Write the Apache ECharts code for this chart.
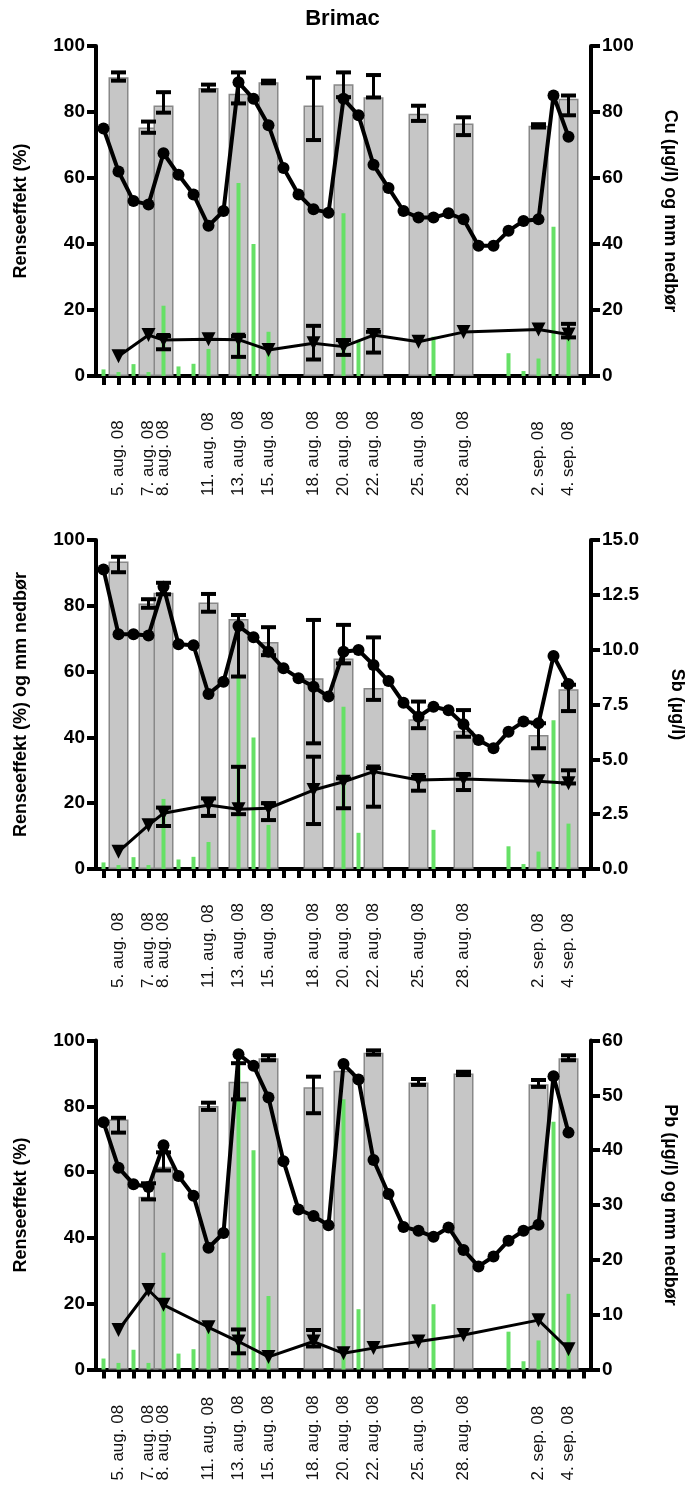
<!DOCTYPE html>
<html>
<head>
<meta charset="utf-8">
<script src="https://cdn.jsdelivr.net/npm/echarts@6/dist/echarts.min.js"></script>
<style>
  html, body { margin: 0; padding: 0; background: #fff; }
  #chart { width: 685px; height: 1485px; }
</style>
</head>
<body>
<div id="chart"></div>
<script>
// days on the x axis, 4. aug. 08 - 5. sep. 08
const days = ['4. aug. 08', '5. aug. 08', '6. aug. 08', '7. aug. 08', '8. aug. 08', '9. aug. 08', '10. aug. 08',
  '11. aug. 08', '12. aug. 08', '13. aug. 08', '14. aug. 08', '15. aug. 08', '16. aug. 08', '17. aug. 08',
  '18. aug. 08', '19. aug. 08', '20. aug. 08', '21. aug. 08', '22. aug. 08', '23. aug. 08', '24. aug. 08',
  '25. aug. 08', '26. aug. 08', '27. aug. 08', '28. aug. 08', '29. aug. 08', '30. aug. 08', '31. aug. 08',
  '1. sep. 08', '2. sep. 08', '3. sep. 08', '4. sep. 08', '5. sep. 08']
// only these dates get a label
const shownDays = ['5. aug. 08', '7. aug. 08', '8. aug. 08', '11. aug. 08', '13. aug. 08', '15. aug. 08',
  '18. aug. 08', '20. aug. 08', '22. aug. 08', '25. aug. 08', '28. aug. 08', '2. sep. 08', '4. sep. 08']

// rain (mm nedbør), same in all three panels
const rain = [2, 1.2, 3.6, 1.2, 21.3, 2.9, 3.7, 8.2, null, 58.5, 40, 13.4, null, null, null, null, 49.3, 11,
  null, null, null, null, 11.9, null, null, null, null, 6.9, 1.5, 5.3, 45.2, 13.8, null]

// Cu
const cuEff = [null, 90.5, null, 75.3, 82, null, null, 87.3, null, 85.5, null, 89, null, null, 82, null, 88.4,
  null, 84.5, null, null, 79.5, null, null, 76.5, null, null, null, null, 75.8, null, 84, null]
const cuEffLow = [null, 89.5, null, 73.7, 79.8, null, null, 86.5, null, 82.6, null, 88.7, null, null, 71.5, null, 84.5,
  null, 84.4, null, null, 77.3, null, null, 73, null, null, null, null, 75.3, null, 79, null]
const cuEffHigh = [null, 92, null, 77.1, 86, null, null, 88.3, null, 92, null, 89.5, null, null, 90.4, null, 92,
  null, 91.2, null, null, 81.9, null, null, 78.4, null, null, null, null, 76.3, null, 85, null]
const cu = [75, 62, 53, 52, 67.5, 61, 55, 45.5, 50, 89, 84, 76, 63, 55, 50.5, 49.5, 84, 79, 64, 57, 50, 48, 48,
  49.3, 47.5, 39.5, 39.5, 44, 47, 47.5, 85, 72.5, null]
const cuOut = [null, 6, null, 12.4, 10.9, null, null, 11.1, null, 11, null, 7.9, null, null, 9.9, null, 8.9,
  null, 12.4, null, null, 10.4, null, null, 13.3, null, null, null, null, 14.1, null, 12.6, null]
const cuOutLow = [null, null, null, null, 8.1, null, null, null, null, 5.8, null, null, null, null, 5, null, 6.4,
  null, 7.1, null, null, null, null, null, null, null, null, null, null, null, null, 11.7, null]
const cuOutHigh = [null, null, null, null, 12.1, null, null, null, null, 12.1, null, null, null, null, 15.2, null, 10.9,
  null, 13.4, null, null, null, null, null, null, null, null, null, null, null, null, 15.8, null]

// Sb
const sbEff = [null, 93.5, null, 80.7, 84, null, null, 81, null, 76, null, 69, null, null, 58, null, 64,
  null, 55, null, null, 45.5, null, null, 42, null, null, null, null, 40.7, null, 54.6, null]
const sbEffLow = [null, 90.2, null, 79.4, 83.5, null, null, 78.2, null, 58.5, null, 65, null, null, 38.2, null, 62.5,
  null, 51.4, null, null, 42.8, null, null, 40.2, null, null, null, null, 36.7, null, 48, null]
const sbEffHigh = [null, 94.9, null, 82, 87, null, null, 83.6, null, 77.2, null, 73.5, null, null, 75.7, null, 74.2,
  null, 70.4, null, null, 50.9, null, null, 48.3, null, null, null, null, 44.3, null, 56, null]
const sb = [13.66, 10.7, 10.7, 10.65, 12.87, 10.25, 10.2, 7.98, 8.54, 11.08, 10.57, 9.9, 9.15, 8.7, 8.31, 7.86,
  9.9, 9.98, 9.3, 8.57, 7.58, 6.94, 7.4, 7.24, 6.6, 5.88, 5.5, 6.26, 6.72, 6.64, 9.71, 8.43, null]
const sbOut = [null, 0.79, null, 2, 2.54, null, null, 2.92, null, 2.72, null, 2.77, null, null, 3.6, null, 3.98,
  null, 4.44, null, null, 4.06, null, null, 4.1, null, null, null, null, 4, null, 3.91, null]
const sbOutLow = [null, null, null, null, 1.96, null, null, 2.42, null, 2.5, null, 2.23, null, null, 2.05, null, 2.77,
  null, 2.84, null, null, 3.57, null, null, 3.6, null, null, null, null, null, null, 3.9, null]
const sbOutHigh = [null, null, null, null, 2.8, null, null, 3.22, null, 4.66, null, 3, null, null, 5.12, null, 4.13,
  null, 4.6, null, null, 4.2, null, null, 4.3, null, null, null, null, null, null, 4.5, null]

// Pb
const pbEff = [null, 76, null, 52.5, 61.6, null, null, 80.1, null, 87.5, null, 94.6, null, null, 85.8, null, 90.8,
  null, 96.3, null, null, 87.2, null, null, 90, null, null, null, null, 86.7, null, 94.6, null]
const pbEffLow = [null, 72, null, 51.7, 60.5, null, null, 78.9, null, 82.1, null, 94, null, null, 77.9, null, null,
  null, 95.7, null, null, 86.5, null, null, 89.5, null, null, null, null, 85.9, null, 94, null]
const pbEffHigh = [null, 76.5, null, 56.6, 66, null, null, 81.1, null, 93.1, null, 95.5, null, null, 89, null, null,
  null, 97, null, null, 88.3, null, null, 90.5, null, null, null, null, 88, null, 95.5, null]
const pb = [45.1, 36.8, 33.8, 33.3, 40.9, 35.3, 31.7, 22.2, 24.9, 57.5, 55.4, 49.6, 38, 29.2, 28, 26.3, 55.7, 52.9,
  38.2, 32, 26, 25.3, 24.2, 25.9, 21.8, 18.8, 20.6, 23.5, 25.3, 26.4, 53.5, 43.2, null]
const pbOut = [null, 7.2, null, 14.5, 11.8, null, null, 7.7, null, 5.1, null, 2.3, null, null, 5.1, null, 2.95,
  null, 3.9, null, null, 5.1, null, null, 6.3, null, null, null, null, 9, null, 3.7, null]
const pbOutLow = [null, null, null, null, null, null, null, null, null, 2.95, null, null, null, null, 4.2, null, null,
  null, null, null, null, null, null, null, null, null, null, null, null, null, null, null, null]
const pbOutHigh = [null, null, null, null, null, null, null, null, null, 7.3, null, null, null, null, 7.2, null, null,
  null, null, null, null, null, null, null, null, null, null, null, null, null, null, null, null]

const font = 'Liberation Sans, Arial, sans-serif'

const panels = [
  { top: 46, height: 330, eff: cuEff, effLow: cuEffLow, effHigh: cuEffHigh, conc: cu, out: cuOut,
    outLow: cuOutLow, outHigh: cuOutHigh, rightMax: 100, rightStep: 20, rainLeft: false, rightGap: 70,
    labelGap: 120, leftName: 'Renseeffekt (%)', rightName: 'Cu (\u00b5g/l) og mm nedb\u00f8r' },
  { top: 540, height: 329, eff: sbEff, effLow: sbEffLow, effHigh: sbEffHigh, conc: sb, out: sbOut,
    outLow: sbOutLow, outHigh: sbOutHigh, rightMax: 15, rightStep: 2.5, rainLeft: true, rightGap: 77,
    labelGap: 119, leftName: 'Renseeffekt (%) og mm nedb\u00f8r', rightName: 'Sb (\u00b5g/l)' },
  { top: 1040.5, height: 329, eff: pbEff, effLow: pbEffLow, effHigh: pbEffHigh, conc: pb, out: pbOut,
    outLow: pbOutLow, outHigh: pbOutHigh, rightMax: 60, rightStep: 10, rainLeft: false, rightGap: 70,
    labelGap: 111, leftName: 'Renseeffekt (%)', rightName: 'Pb (\u00b5g/l) og mm nedb\u00f8r' }
]

// [index, low, high] for the error bars
const errData = (low, high) => {
  const out = []
  low.forEach((v, i) => {
    if (v != null && high[i] != null) out.push([i, v, high[i]])
  })
  return out
}

// vertical error bar with caps
const errRender = capW => (params, api) => {
  const i = api.value(0)
  const lo = api.coord([i, api.value(1)])
  const hi = api.coord([i, api.value(2)])
  const h = capW / 2
  const style = { stroke: '#000', lineWidth: 3 }
  const capStyle = { stroke: '#000', lineWidth: 4 }
  return {
    type: 'group',
    children: [
      { type: 'line', shape: { x1: lo[0], y1: lo[1], x2: hi[0], y2: hi[1] }, style },
      { type: 'line', shape: { x1: hi[0] - h, y1: hi[1], x2: hi[0] + h, y2: hi[1] }, style: capStyle },
      { type: 'line', shape: { x1: lo[0] - h, y1: lo[1], x2: lo[0] + h, y2: lo[1] }, style: capStyle }
    ]
  }
}

const axisLine = { show: true, lineStyle: { color: '#000', width: 4 } }
const yTick = { show: true, length: 9, lineStyle: { color: '#000', width: 4 } }
const yLabel = { color: '#000', fontSize: 19, fontWeight: 'bold', fontFamily: font, margin: 11 }
const nameStyle = { color: '#000', fontSize: 18, fontWeight: 'bold', fontFamily: font }

const grid = [], xAxis = [], yAxis = [], series = []

panels.forEach((p, g) => {
  // fixed plot box, labels are allowed to run outside
  grid.push({ left: 96, width: 495, top: p.top, height: p.height, outerBoundsMode: 'none', containLabel: false })

  // visible date axis
  xAxis.push({
    type: 'category', gridIndex: g, data: days, boundaryGap: true,
    axisLine,
    axisTick: { show: true, alignWithLabel: true, interval: 0, length: 9, lineStyle: { color: '#000', width: 4 } },
    axisLabel: {
      interval: 0, rotate: 90, align: 'left', verticalAlign: 'middle', margin: p.labelGap,
      fontSize: 17, color: '#111', fontFamily: font,
      formatter: v => shownDays.includes(v) ? v : ''
    },
    splitLine: { show: false }
  })
  // hidden twin axis so the rain bars sit centred on their own
  xAxis.push({ type: 'category', gridIndex: g, data: days, boundaryGap: true, show: false })

  yAxis.push({
    type: 'value', gridIndex: g, position: 'left', min: 0, max: 100, interval: 20,
    axisLine, axisTick: yTick, axisLabel: yLabel, splitLine: { show: false },
    name: p.leftName, nameLocation: 'middle', nameGap: 66, nameRotate: 90, nameTextStyle: nameStyle
  })
  yAxis.push({
    type: 'value', gridIndex: g, position: 'right', min: 0, max: p.rightMax, interval: p.rightStep,
    axisLine, axisTick: yTick,
    axisLabel: { ...yLabel, formatter: v => p.rightStep < 5 ? v.toFixed(1) : v },
    splitLine: { show: false },
    name: p.rightName, nameLocation: 'middle', nameGap: p.rightGap, nameRotate: -90, nameTextStyle: nameStyle
  })

  const xi = g * 2, left = g * 2, right = g * 2 + 1

  // removal efficiency bars
  series.push({
    type: 'bar', xAxisIndex: xi, yAxisIndex: left, data: p.eff, barWidth: 20, z: 1,
    itemStyle: { color: '#c6c6c6', borderColor: '#888', borderWidth: 1.5 }
  })
  // rain
  series.push({
    type: 'bar', xAxisIndex: xi + 1, yAxisIndex: p.rainLeft ? left : right, data: rain, barWidth: 4, z: 2,
    itemStyle: { color: '#66e066' }
  })
  series.push({
    type: 'custom', xAxisIndex: xi, yAxisIndex: left, z: 3,
    data: errData(p.effLow, p.effHigh), encode: { x: 0, y: [1, 2] }, renderItem: errRender(15)
  })
  // inlet concentration
  series.push({
    type: 'line', xAxisIndex: xi, yAxisIndex: right, data: p.conc, z: 4,
    symbol: 'circle', symbolSize: 12, connectNulls: true,
    lineStyle: { color: '#000', width: 4 }, itemStyle: { color: '#000' }
  })
  // outlet concentration
  series.push({
    type: 'line', xAxisIndex: xi, yAxisIndex: right, data: p.out, z: 5,
    symbol: 'triangle', symbolRotate: 180, symbolSize: 14, connectNulls: true,
    lineStyle: { color: '#000', width: 3 }, itemStyle: { color: '#000' }
  })
  series.push({
    type: 'custom', xAxisIndex: xi, yAxisIndex: right, z: 5,
    data: errData(p.outLow, p.outHigh), encode: { x: 0, y: [1, 2] }, renderItem: errRender(15)
  })
})

const chart = echarts.init(document.getElementById('chart'))
chart.setOption({
  animation: false,
  backgroundColor: '#fff',
  title: {
    text: 'Brimac', left: 'center', top: 3,
    textStyle: { color: '#000', fontSize: 22, fontWeight: 'bold', fontFamily: font }
  },
  grid, xAxis, yAxis, series
})
</script>
</body>
</html>
